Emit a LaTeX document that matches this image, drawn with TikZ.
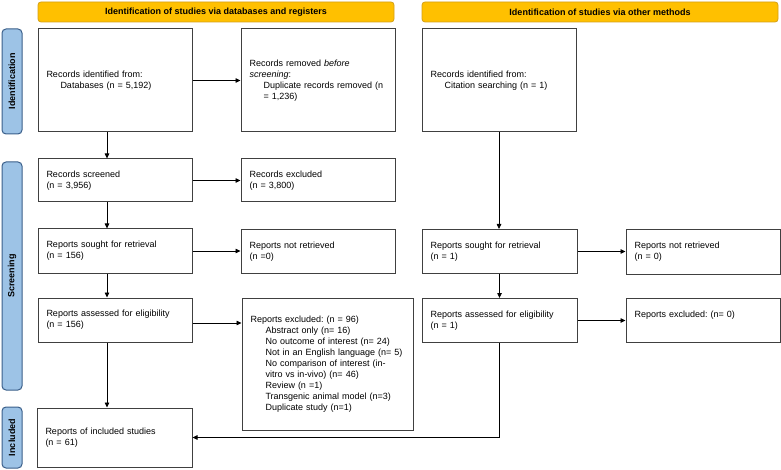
\documentclass[tikz,border=0pt]{standalone}
\usepackage{fontspec}
\setmainfont{Liberation Sans}
\usetikzlibrary{arrows.meta,calc}
\definecolor{banfill}{HTML}{FFC000}
\definecolor{banline}{HTML}{D4A017}
\definecolor{sidefill}{HTML}{9DC3E6}
\definecolor{sideline}{HTML}{3A5F8A}
\definecolor{boxline}{HTML}{404040}
\frenchspacing
\begin{document}
\begin{tikzpicture}[x=1pt,y=-1pt,
  banner/.style={draw=banline, fill=banfill, rounded corners=3pt, line width=0.8pt,
    minimum width=356pt, minimum height=20pt, inner sep=0pt, font=\fontsize{9}{11}\selectfont\bfseries},
  side/.style={draw=sideline, fill=sidefill, rounded corners=4pt, line width=1pt,
    rotate=90, minimum height=20pt, inner sep=0pt, font=\fontsize{9}{11}\selectfont\bfseries},
  box/.style={draw=boxline, line width=1pt, fill=white, minimum width=#1, text width=#1-17pt,
    inner xsep=8.5pt, inner ysep=0pt, align=left, font=\fontsize{9}{11}\selectfont\frenchspacing},
  box/.default=154pt,
  arr/.style={-{Triangle[length=5pt,width=4.5pt]}, line width=0.8pt, black}
]
\useasboundingbox (0,0) rectangle (781,470);

% banners
\node[banner] (ban1) at (216,12) {Identification of studies via databases and registers};
\node[banner] (ban2) at (600,12) {Identification of studies via other methods};

% side labels
\node[side, minimum width=105pt] (sid) at (12,81.5) {Identification};
\node[side, minimum width=228pt] (sscr) at (12,276) {Screening};
\node[side, minimum width=61pt] (sinc) at (12,437.5) {Included};

% row 1
\node[box, minimum height=103pt] (A) at (115,80.5)
  {Records identified from:\\\hspace*{14pt}Databases (n = 5,192)};
\node[box, minimum height=103pt] (B) at (318,80.5)
  {Records removed \textit{before}\\\textit{screening}:\\\hspace*{14pt}Duplicate records removed (n\\\hspace*{14pt}= 1,236)};
\node[box, minimum height=103pt] (C) at (499,80.5)
  {Records identified from:\\\hspace*{14pt}Citation searching (n = 1)};

% row 2
\node[box, minimum height=43pt] (scr) at (115,180.5) {Records screened\\(n = 3,956)};
\node[box, minimum height=43pt] (exc1) at (318,180.5) {Records excluded\\(n = 3,800)};

% row 3
\node[box, minimum height=44pt] (sou) at (115,251) {Reports sought for retrieval\\(n = 156)};
\node[box, minimum height=44pt] (nret) at (318,251.5) {Reports not retrieved\\(n =0)};
\node[box=155pt, minimum height=44pt] (sou2) at (499.5,251.5) {Reports sought for retrieval\\(n = 1)};
\node[box, minimum height=44pt] (nret2) at (703,252) {Reports not retrieved\\(n = 0)};

% row 4
\node[box, minimum height=44pt] (ass) at (115,320) {Reports assessed for eligibility\\(n = 156)};
\node[box=171pt, minimum height=132pt] (exc2) at (327.5,364)
  {Reports excluded: (n = 96)\\
   \hspace*{15pt}Abstract only (n= 16)\\
   \hspace*{15pt}No outcome of interest (n= 24)\\
   \hspace*{15pt}Not in an English language (n= 5)\\
   \hspace*{15pt}No comparison of interest (in-\\
   \hspace*{15pt}vitro vs in-vivo) (n= 46)\\
   \hspace*{15pt}Review (n =1)\\
   \hspace*{15pt}Transgenic animal model (n=3)\\
   \hspace*{15pt}Duplicate study (n=1)};
\node[box=155pt, minimum height=44pt] (ass2) at (499.5,320.5) {Reports assessed for eligibility\\(n = 1)};
\node[box, minimum height=44pt] (exc3) at (703,320) {Reports excluded: (n= 0)\\\mbox{}};

% row 5
\node[box=155pt, minimum height=59pt] (inc) at (114.5,437.5) {Reports of included studies\\(n = 61)};

% connectors
\draw[arr] (A.east) -- (A.east -| B.west);
\draw[arr] (scr.east) -- (scr.east -| exc1.west);
\draw[arr] (sou.east) -- (sou.east -| nret.west);
\draw[arr] (ass.east) ++(0,3) coordinate (aE) -- (aE -| exc2.west);
\draw[arr] (sou2.east) -- (sou2.east -| nret2.west);
\draw[arr] (ass2.east) -- (ass2.east -| exc3.west);

\draw[arr] ([xshift=-8pt]A.south) -- ([xshift=-8pt]scr.north);
\draw[arr] ([xshift=-8pt]scr.south) -- ([xshift=-8pt]sou.north);
\draw[arr] ([xshift=-8pt]sou.south) -- ([xshift=-8pt]ass.north);
\draw[arr] ([xshift=-8pt]ass.south) -- ([xshift=-7.5pt]inc.north);

\draw[arr] (C.south) -- (C.south |- sou2.north);
\draw[arr] (sou2.south) -- (ass2.north);
\draw[arr] (ass2.south) |- (inc.east);
\end{tikzpicture}
\end{document}
